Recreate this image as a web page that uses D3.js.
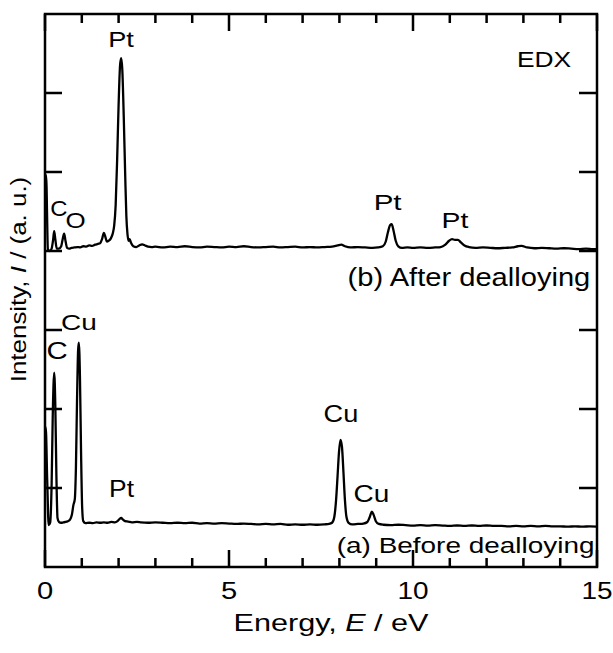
<!DOCTYPE html>
<html>
<head>
<meta charset="utf-8">
<script src="https://cdn.jsdelivr.net/npm/d3@7"></script>
<style>
    body { margin: 0; background: #fff; }
    svg { display: block; font-family: "Liberation Sans", Arial, sans-serif; }
</style>
</head>
<body>
<svg id="chart" width="613" height="653"></svg>
<script>

// energy axis (keV shown as "eV" in the original label)
var majorTicks = [0, 5, 10, 15];
var minorTicks = [1, 2, 3, 4, 6, 7, 8, 9, 11, 12, 13, 14];
var intensityTicks = [1, 2, 3, 4, 5, 6];

// (a) before dealloying: [energy, intensity]
var specA = [
    [0.00, 1.70], [0.02, 1.77], [0.06, 1.10], [0.10, 0.53], [0.14, 0.56],
    [0.18, 1.05], [0.21, 1.90], [0.25, 2.46], [0.28, 2.05], [0.31, 1.15],
    [0.34, 0.62], [0.38, 0.57], [0.44, 0.56], [0.50, 0.565], [0.56, 0.57],
    [0.62, 0.58], [0.68, 0.60], [0.73, 0.66], [0.77, 0.78], [0.81, 0.86],
    [0.84, 1.25], [0.87, 2.10], [0.90, 2.75], [0.92, 2.84], [0.95, 2.40],
    [0.98, 1.45], [1.01, 0.75], [1.04, 0.58], [1.10, 0.555], [1.20, 0.56],
    [1.30, 0.555], [1.40, 0.565], [1.50, 0.56], [1.60, 0.565], [1.70, 0.56],
    [1.80, 0.57], [1.90, 0.565], [1.97, 0.58], [2.03, 0.61], [2.07, 0.62],
    [2.12, 0.60], [2.18, 0.58], [2.26, 0.575], [2.36, 0.565], [2.50, 0.57],
    [2.60, 0.565], [2.80, 0.56], [3.00, 0.565], [3.20, 0.56], [3.40, 0.555],
    [3.60, 0.56], [3.80, 0.555], [4.00, 0.56], [4.20, 0.55], [4.40, 0.555],
    [4.60, 0.55], [4.80, 0.555], [5.00, 0.55], [5.20, 0.545], [5.40, 0.55],
    [5.60, 0.545], [5.80, 0.54], [6.00, 0.545], [6.20, 0.54], [6.40, 0.545],
    [6.60, 0.535], [6.80, 0.54], [7.00, 0.535], [7.20, 0.54], [7.40, 0.535],
    [7.60, 0.54], [7.72, 0.545], [7.80, 0.56], [7.86, 0.63], [7.91, 0.85],
    [7.95, 1.15], [7.99, 1.46], [8.03, 1.61], [8.07, 1.52], [8.11, 1.20],
    [8.15, 0.85], [8.19, 0.64], [8.25, 0.56], [8.35, 0.54], [8.50, 0.545],
    [8.65, 0.55], [8.76, 0.57], [8.83, 0.64], [8.88, 0.70], [8.93, 0.66],
    [8.99, 0.58], [9.07, 0.545], [9.20, 0.535], [9.40, 0.53], [9.60, 0.535],
    [9.80, 0.53], [10.0, 0.525], [10.2, 0.53], [10.4, 0.525], [10.6, 0.53],
    [10.8, 0.525], [11.0, 0.52], [11.2, 0.525], [11.4, 0.52], [11.6, 0.525],
    [11.8, 0.52], [12.0, 0.525], [12.2, 0.52], [12.4, 0.52], [12.6, 0.515],
    [12.8, 0.52], [13.0, 0.515], [13.2, 0.52], [13.4, 0.515], [13.6, 0.52],
    [13.8, 0.515], [14.0, 0.515], [14.2, 0.51], [14.4, 0.515], [14.6, 0.51],
    [14.8, 0.515], [15.0, 0.51]
];

// (b) after dealloying: [energy, intensity]
var specB = [
    [0.00, 4.90], [0.03, 4.96], [0.08, 4.02], [0.13, 4.00], [0.18, 4.03],
    [0.22, 4.14], [0.25, 4.25], [0.28, 4.15], [0.32, 4.03], [0.38, 4.03],
    [0.44, 4.06], [0.48, 4.15], [0.52, 4.22], [0.56, 4.12], [0.60, 4.04],
    [0.66, 4.03], [0.72, 4.04], [0.80, 4.045], [0.88, 4.05], [0.96, 4.045],
    [1.04, 4.06], [1.12, 4.055], [1.20, 4.07], [1.28, 4.065], [1.36, 4.08],
    [1.44, 4.09], [1.50, 4.10], [1.55, 4.15], [1.60, 4.23], [1.64, 4.18],
    [1.68, 4.12], [1.73, 4.13], [1.79, 4.16], [1.84, 4.22], [1.88, 4.32],
    [1.92, 4.58], [1.96, 5.15], [2.00, 5.85], [2.04, 6.35], [2.07, 6.44],
    [2.10, 6.30], [2.14, 5.70], [2.18, 4.95], [2.21, 4.45], [2.24, 4.22],
    [2.27, 4.13], [2.30, 4.15], [2.34, 4.10], [2.40, 4.06], [2.48, 4.05],
    [2.56, 4.07], [2.64, 4.085], [2.72, 4.07], [2.80, 4.055], [2.90, 4.05],
    [3.00, 4.055], [3.20, 4.045], [3.40, 4.055], [3.60, 4.05], [3.80, 4.06],
    [4.00, 4.05], [4.20, 4.045], [4.40, 4.055], [4.60, 4.05], [4.80, 4.045],
    [5.00, 4.055], [5.20, 4.05], [5.40, 4.06], [5.60, 4.05], [5.80, 4.045],
    [6.00, 4.05], [6.20, 4.055], [6.40, 4.045], [6.60, 4.05], [6.80, 4.055],
    [7.00, 4.045], [7.20, 4.05], [7.40, 4.045], [7.60, 4.05], [7.80, 4.055],
    [7.95, 4.07], [8.05, 4.08], [8.15, 4.06], [8.30, 4.045], [8.50, 4.05],
    [8.70, 4.045], [8.90, 4.04], [9.05, 4.045], [9.18, 4.06], [9.26, 4.12],
    [9.32, 4.24], [9.38, 4.33], [9.42, 4.34], [9.47, 4.26], [9.53, 4.13],
    [9.60, 4.06], [9.70, 4.04], [9.85, 4.045], [10.0, 4.04], [10.2, 4.045],
    [10.4, 4.04], [10.6, 4.045], [10.75, 4.05], [10.88, 4.08], [10.98, 4.13],
    [11.06, 4.15], [11.14, 4.14], [11.22, 4.14], [11.30, 4.11], [11.40, 4.07],
    [11.52, 4.05], [11.70, 4.04], [11.90, 4.045], [12.1, 4.04], [12.3, 4.035],
    [12.5, 4.04], [12.7, 4.045], [12.85, 4.06], [12.95, 4.065], [13.1, 4.045],
    [13.3, 4.035], [13.5, 4.04], [13.7, 4.035], [13.9, 4.03], [14.1, 4.035],
    [14.3, 4.03], [14.5, 4.025], [14.7, 4.03], [14.9, 4.025], [15.0, 4.025]
];

// peak labels: text, energy, intensity of the baseline, font size, ink width
var peakLabels = [
    ['Pt', 2.065, 6.58, 22, 23],
    ['C', 0.38, 4.44, 22, 15],
    ['O', 0.83, 4.29, 22, 17.6],
    ['EDX', 13.56, 6.33, 22, 52],
    ['Pt', 9.31, 4.52, 22, 25],
    ['Pt', 11.14, 4.29, 22, 24],
    ['(b) After dealloying', 11.52, 3.56, 25, 240],
    ['Cu', 0.92, 3.00, 22, 33],
    ['C', 0.33, 2.63, 23, 18.3],
    ['Pt', 2.08, 0.89, 23, 23],
    ['Cu', 8.04, 1.84, 23, 32],
    ['Cu', 8.87, 0.82, 23, 33],
    ['(a) Before dealloying', 11.43, 0.18, 23, 255]
];

var margin = {left: 45, top: 14};
var width = 552, height = 553;

var svg = d3.select('#chart');

var x = d3.scaleLinear().domain([0, 15]).range([0, width]);
var y = d3.scaleLinear().domain([0, 7]).range([height, 0]);

var g = svg.append('g')
    .attr('transform', 'translate(' + margin.left + ',' + margin.top + ')');

// the reference uses a wide-looking Arial, so glyphs get stretched sideways
function stretch(sel, size, ink) {
    sel.each(function() {
        var w = this.getBBox().width - 0.1 * size;
        var t = d3.select(this);
        t.attr('transform', t.attr('data-base') + ' scale(' + (ink / w) + ',1)');
    });
}

function addText(parent, str, cx, base, size, ink) {
    var t = parent.append('text')
        .attr('text-anchor', 'middle')
        .attr('font-size', size)
        .attr('data-base', 'translate(' + cx + ',' + base + ')')
        .text(str);
    stretch(t, size, ink);
    return t;
}

g.append('clipPath').attr('id', 'plot-clip')
    .append('rect').attr('width', width).attr('height', height);

// spectra
var line = d3.line()
    .x(d => x(d[0]))
    .y(d => y(d[1]))
    .curve(d3.curveMonotoneX);

g.append('g').attr('clip-path', 'url(#plot-clip)')
    .selectAll('path')
    .data([specA, specB])
    .enter().append('path')
    .attr('d', line)
    .attr('fill', 'none')
    .attr('stroke', '#000')
    .attr('stroke-width', 2.3)
    .attr('stroke-linejoin', 'round');

// inward ticks on all four sides, drawn as one path
var tickPath = [];
majorTicks.concat(minorTicks).forEach(v => {
    var len = majorTicks.indexOf(v) >= 0 ? 17 : 9;
    tickPath.push('M' + x(v) + ',' + height + 'V' + (height - len));
    tickPath.push('M' + x(v) + ',0V' + len);
});
intensityTicks.forEach(v => {
    tickPath.push('M0,' + y(v) + 'H17');
    tickPath.push('M' + width + ',' + y(v) + 'H' + (width - 18));
});

g.append('path')
    .attr('d', tickPath.join(''))
    .attr('fill', 'none')
    .attr('stroke', '#000')
    .attr('stroke-width', 2.5);

g.append('rect')
    .attr('width', width)
    .attr('height', height)
    .attr('fill', 'none')
    .attr('stroke', '#000')
    .attr('stroke-width', 2.5);

// tick labels
majorTicks.forEach(v => {
    addText(g, String(v), x(v), height + 32, 23, v < 10 ? 13.3 : 28.3);
});

// peak labels
peakLabels.forEach(p => {
    addText(g, p[0], x(p[1]), y(p[2]), p[3], p[4]);
});

// axis titles
var xt = svg.append('text')
    .attr('text-anchor', 'middle')
    .attr('font-size', 24)
    .attr('data-base', 'translate(331,631)');
xt.append('tspan').text('Energy, ');
xt.append('tspan').attr('font-style', 'italic').text('E');
xt.append('tspan').text(' / eV');
stretch(xt, 24, 192);

var yt = svg.append('text')
    .attr('text-anchor', 'middle')
    .attr('font-size', 22)
    .attr('data-base', 'translate(26,279.5) rotate(-90)');
yt.append('tspan').text('Intensity, ');
yt.append('tspan').attr('font-style', 'italic').text('I');
yt.append('tspan').text(' / (a. u.)');
stretch(yt, 22, 203);

</script>
</body>
</html>
